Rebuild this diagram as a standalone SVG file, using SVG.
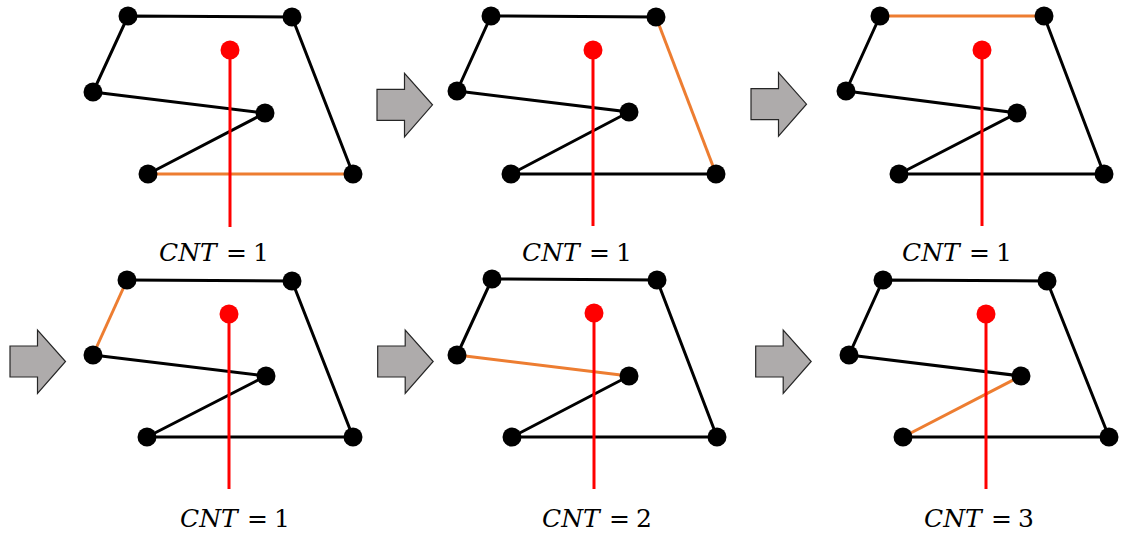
<svg xmlns="http://www.w3.org/2000/svg" xmlns:xlink="http://www.w3.org/1999/xlink" width="1121" height="536" viewBox="0 0 1121 536">
<style>
.e{stroke:#000;stroke-width:3;fill:none}
.o{stroke:#ED7D31;stroke-width:3;fill:none}
.r{stroke:#FF0000;stroke-width:3}
.v{fill:#000}
.rd{fill:#FF0000}
.arr{fill:#AEABAB;stroke:#262626;stroke-width:1.2}
.lbl{font-family:"DejaVu Serif","Liberation Serif",serif;font-size:25px;fill:#000}
.it{font-style:italic}
</style>
<defs>
<path id="arrow" d="M0,16 H27.5 V0 L55.5,31.5 L27.5,63.5 V47 H0 Z"/>
</defs>
<rect width="1121" height="536" fill="#fff"/>

<g id="arrows">
<use xlink:href="#arrow" class="arr" x="377" y="73.3"/>
<use xlink:href="#arrow" class="arr" x="751" y="72.7"/>
<use xlink:href="#arrow" class="arr" x="10" y="330"/>
<use xlink:href="#arrow" class="arr" x="377.7" y="330"/>
<use xlink:href="#arrow" class="arr" x="755.7" y="330"/>
</g>

<!-- Panel 1 -->
<g id="panel1">
<g id="p1-connectors">
<polyline class="e" points="148,174 265,113 93,92 128,16 292,17 353,174"/>
<line class="o" x1="353" y1="174" x2="148" y2="174"/>
<line class="r" x1="230" y1="50" x2="230" y2="227"/>
</g>
<g id="p1-v1"><circle class="v" cx="128" cy="16" r="9.5"/></g>
<g id="p1-v2"><circle class="v" cx="292" cy="17" r="9.5"/></g>
<g id="p1-v3"><circle class="v" cx="353" cy="174" r="9.5"/></g>
<g id="p1-v4"><circle class="v" cx="148" cy="174" r="9.5"/></g>
<g id="p1-v5"><circle class="v" cx="265" cy="113" r="9.5"/></g>
<g id="p1-v6"><circle class="v" cx="93" cy="92" r="9.5"/></g>
<g id="p1-pt"><circle class="rd" cx="230" cy="50" r="9.5"/></g>
<text class="lbl" x="159" y="261"><tspan class="it">CNT</tspan> <tspan x="226">=</tspan> <tspan x="253">1</tspan></text>
</g>

<!-- Panel 2 -->
<g id="panel2">
<g id="p2-connectors">
<polyline class="e" points="656,17 491,16 457,91 629,112 511,174 716,174"/>
<line class="o" x1="656" y1="17" x2="716" y2="174"/>
<line class="r" x1="593" y1="50" x2="593" y2="226"/>
</g>
<g id="p2-v1"><circle class="v" cx="491" cy="16" r="9.5"/></g>
<g id="p2-v2"><circle class="v" cx="656" cy="17" r="9.5"/></g>
<g id="p2-v3"><circle class="v" cx="716" cy="174" r="9.5"/></g>
<g id="p2-v4"><circle class="v" cx="511" cy="174" r="9.5"/></g>
<g id="p2-v5"><circle class="v" cx="629" cy="112" r="9.5"/></g>
<g id="p2-v6"><circle class="v" cx="457" cy="91" r="9.5"/></g>
<g id="p2-pt"><circle class="rd" cx="593" cy="50" r="9.5"/></g>
<text class="lbl" x="522" y="261"><tspan class="it">CNT</tspan> <tspan x="589">=</tspan> <tspan x="616">1</tspan></text>
</g>

<!-- Panel 3 -->
<g id="panel3">
<g id="p3-connectors">
<polyline class="e" points="1044,16 1104,174 899,174 1017,113 846,91 880,16"/>
<line class="o" x1="880" y1="16" x2="1044" y2="16"/>
<line class="r" x1="982" y1="50" x2="982" y2="226"/>
</g>
<g id="p3-v1"><circle class="v" cx="880" cy="16" r="9.5"/></g>
<g id="p3-v2"><circle class="v" cx="1044" cy="16" r="9.5"/></g>
<g id="p3-v3"><circle class="v" cx="1104" cy="174" r="9.5"/></g>
<g id="p3-v4"><circle class="v" cx="899" cy="174" r="9.5"/></g>
<g id="p3-v5"><circle class="v" cx="1017" cy="113" r="9.5"/></g>
<g id="p3-v6"><circle class="v" cx="846" cy="91" r="9.5"/></g>
<g id="p3-pt"><circle class="rd" cx="982" cy="50" r="9.5"/></g>
<text class="lbl" x="902" y="261"><tspan class="it">CNT</tspan> <tspan x="969">=</tspan> <tspan x="996">1</tspan></text>
</g>

<!-- Panel 4 -->
<g id="panel4">
<g id="p4-connectors">
<polyline class="e" points="127,280 292,281 353,437 147,437 266,376 93,355"/>
<line class="o" x1="93" y1="355" x2="127" y2="280"/>
<line class="r" x1="229" y1="314" x2="229" y2="489"/>
</g>
<g id="p4-v1"><circle class="v" cx="127" cy="280" r="9.5"/></g>
<g id="p4-v2"><circle class="v" cx="292" cy="281" r="9.5"/></g>
<g id="p4-v3"><circle class="v" cx="353" cy="437" r="9.5"/></g>
<g id="p4-v4"><circle class="v" cx="147" cy="437" r="9.5"/></g>
<g id="p4-v5"><circle class="v" cx="266" cy="376" r="9.5"/></g>
<g id="p4-v6"><circle class="v" cx="93" cy="355" r="9.5"/></g>
<g id="p4-pt"><circle class="rd" cx="229" cy="314" r="9.5"/></g>
<text class="lbl" x="180" y="527"><tspan class="it">CNT</tspan> <tspan x="247">=</tspan> <tspan x="274">1</tspan></text>
</g>

<!-- Panel 5 -->
<g id="panel5">
<g id="p5-connectors">
<polyline class="e" points="457,355 492,279 657,280 717,437 512,437 629,376"/>
<line class="o" x1="629" y1="376" x2="457" y2="355"/>
<line class="r" x1="594" y1="313" x2="594" y2="489"/>
</g>
<g id="p5-v1"><circle class="v" cx="492" cy="279" r="9.5"/></g>
<g id="p5-v2"><circle class="v" cx="657" cy="280" r="9.5"/></g>
<g id="p5-v3"><circle class="v" cx="717" cy="437" r="9.5"/></g>
<g id="p5-v4"><circle class="v" cx="512" cy="437" r="9.5"/></g>
<g id="p5-v5"><circle class="v" cx="629" cy="376" r="9.5"/></g>
<g id="p5-v6"><circle class="v" cx="457" cy="355" r="9.5"/></g>
<g id="p5-pt"><circle class="rd" cx="594" cy="313" r="9.5"/></g>
<text class="lbl" x="542" y="527"><tspan class="it">CNT</tspan> <tspan x="609">=</tspan> <tspan x="636">2</tspan></text>
</g>

<!-- Panel 6 -->
<g id="panel6">
<g id="p6-connectors">
<polyline class="e" points="1021,376 849,355 883,280 1047,281 1109,437 903,437"/>
<line class="o" x1="903" y1="437" x2="1021" y2="376"/>
<line class="r" x1="986" y1="314" x2="986" y2="489"/>
</g>
<g id="p6-v1"><circle class="v" cx="883" cy="280" r="9.5"/></g>
<g id="p6-v2"><circle class="v" cx="1047" cy="281" r="9.5"/></g>
<g id="p6-v3"><circle class="v" cx="1109" cy="437" r="9.5"/></g>
<g id="p6-v4"><circle class="v" cx="903" cy="437" r="9.5"/></g>
<g id="p6-v5"><circle class="v" cx="1021" cy="376" r="9.5"/></g>
<g id="p6-v6"><circle class="v" cx="849" cy="355" r="9.5"/></g>
<g id="p6-pt"><circle class="rd" cx="986" cy="314" r="9.5"/></g>
<text class="lbl" x="924" y="527"><tspan class="it">CNT</tspan> <tspan x="991">=</tspan> <tspan x="1018">3</tspan></text>
</g>
</svg>
